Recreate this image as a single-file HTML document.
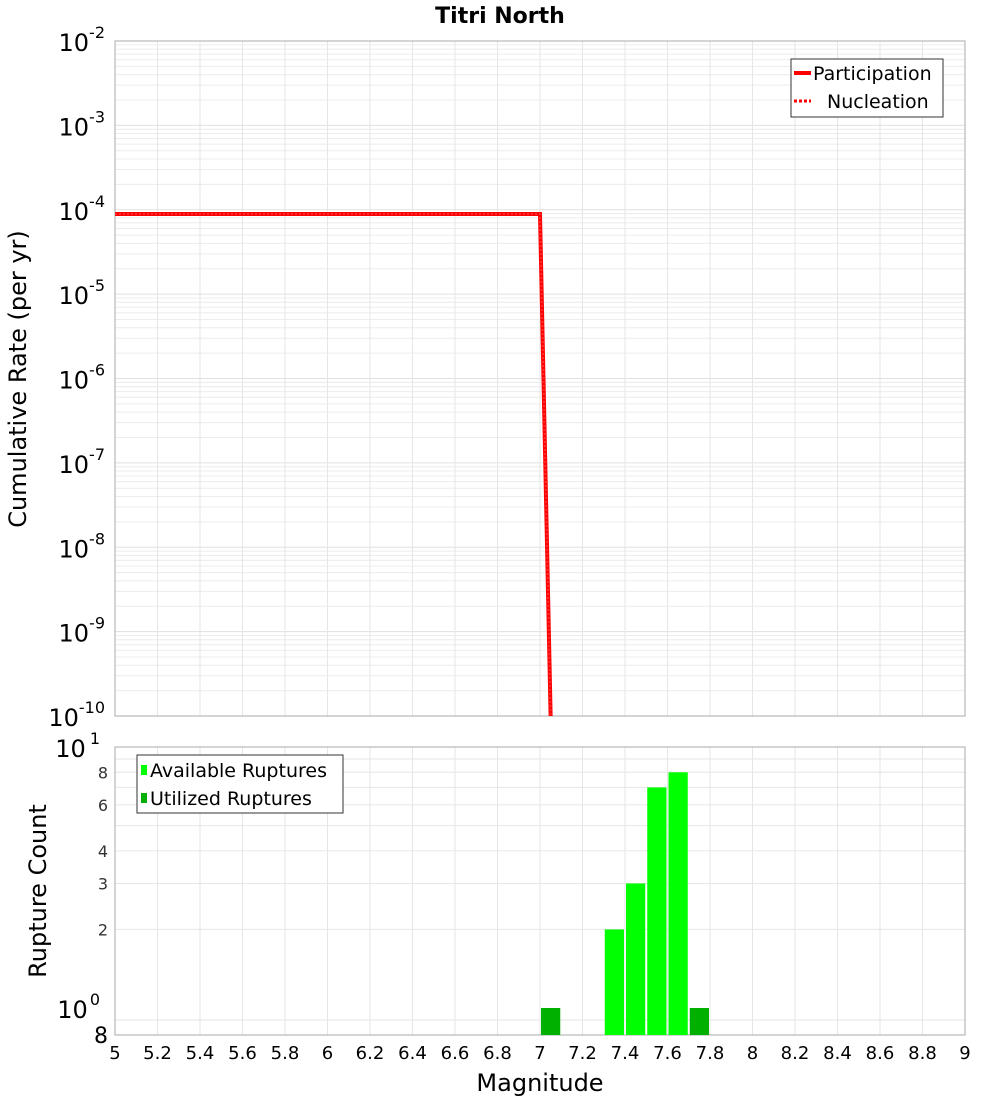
<!DOCTYPE html>
<html><head><meta charset="utf-8"><style>
body{margin:0;background:#fff;font-family:"DejaVu Sans","Liberation Sans",sans-serif}
</style></head><body>
<svg id="chart" width="1000" height="1100" xmlns="http://www.w3.org/2000/svg" font-family="DejaVu Sans, Liberation Sans, sans-serif">
<text x="500" y="23" text-anchor="middle" font-size="22" font-weight="bold">Titri North</text>
<g id="topG"></g><g id="botG"></g>
<text transform="translate(26,379) rotate(-90)" text-anchor="middle" font-size="24">Cumulative Rate (per yr)</text>
<text transform="translate(46,891) rotate(-90)" text-anchor="middle" font-size="24">Rupture Count</text>
<text x="540" y="1091" text-anchor="middle" font-size="24">Magnitude</text>
</svg>
<script>
const lineMags=[5,7.0,7.05];
const partRates=[8.9e-5,8.9e-5,1e-10];
const nuclRates=[8.9e-5,8.9e-5,1e-10];
const barMags=[7.05,7.35,7.45,7.55,7.65,7.75];
const availCounts=[0,2,3,7,8,0];
const usedCounts=[1,0,0,0,0,1];
const xTicks=[5,5.2,5.4,5.6,5.8,6,6.2,6.4,6.6,6.8,7,7.2,7.4,7.6,7.8,8,8.2,8.4,8.6,8.8,9];
const topExps=[-2,-3,-4,-5,-6,-7,-8,-9,-10];
const botTicks=[8,6,4,3,2];

const NS="http://www.w3.org/2000/svg";
const L=115,R=965,T1=41,B1=716,T2=747,B2=1035;
const xs=m=>L+(m-5)/4*(R-L);
const y1=v=>T1+(-2-Math.log10(v))*(B1-T1)/8;
const y2=v=>1008-Math.log10(v)*261;
function el(p,tg,a){const e=document.createElementNS(NS,tg);for(const k in a)e.setAttribute(k,a[k]);p.appendChild(e);return e;}
const topG=document.getElementById('topG'),botG=document.getElementById('botG');

for(let d=-10;d<-2;d++)for(let k=1;k<10;k++){const yy=y1(k*Math.pow(10,d));const g=el(topG,'line',{x1:L,x2:R,y1:yy,y2:yy,stroke:k==1?'#e0e0e0':'#ececec','stroke-width':1});

}
xTicks.forEach(tv=>{[[topG,T1,B1],[botG,T2,B2]].forEach(([p,a,b])=>{const g=el(p,'line',{x1:xs(tv),x2:xs(tv),y1:a,y2:b,stroke:'#e6e6e6'});

});});
[9,8,7,6,5,4,3,2,0.9].forEach(v=>{const g=el(botG,'line',{x1:L,x2:R,y1:y2(v),y2:y2(v),stroke:'#e6e6e6'});

});
let fr=el(topG,'rect',{x:L,y:T1,width:R-L,height:B1-T1,fill:'none',stroke:'#aaa'});


fr=el(botG,'rect',{x:L,y:T2,width:R-L,height:B2-T2,fill:'none',stroke:'#aaa'});



topExps.forEach(e=>{const tx=el(topG,'text',{x:105,y:y1(Math.pow(10,e))+10,'text-anchor':'end','font-size':24});


tx.textContent='10';const sp=el(tx,'tspan',{dy:-13,'font-size':16});sp.textContent=e;});

function pts(r){return lineMags.map((m,i)=>xs(m)+','+y1(r[i])).join(' ');}
let pl=el(topG,'polyline',{points:pts(partRates),fill:'none',stroke:'#ff0000','stroke-width':4});


pl=el(topG,'polyline',{points:pts(nuclRates),fill:'none',stroke:'#ff3030','stroke-width':2,'stroke-dasharray':'2,2'});



const lg=el(topG,'g',{});


el(lg,'rect',{x:791,y:59,width:152,height:58,fill:'#fff',stroke:'#333'});
el(lg,'line',{x1:794,x2:811,y1:73,y2:73,stroke:'#f00','stroke-width':4});
el(lg,'line',{x1:794,x2:811,y1:101,y2:101,stroke:'#f00','stroke-width':3,'stroke-dasharray':'3,2'});
let tt=el(lg,'text',{x:813,y:80,'font-size':19});tt.textContent='Participation';
tt=el(lg,'text',{x:827,y:108,'font-size':19});tt.textContent='Nucleation';

const bw=(xs(7.1)-xs(7.0))-2;
barMags.forEach((m,i)=>{[[availCounts[i],'#00ff00','available-bar'],[usedCounts[i],'#00b000','utilized-bar']].forEach(([v,c,n])=>{if(v>0){
const b=el(botG,'rect',{x:xs(m)-bw/2,y:y2(v),width:bw,height:B2-y2(v),fill:c});

}});});

let bt=el(botG,'text',{x:100,y:757,'text-anchor':'end','font-size':24});


bt.textContent='10';let s1=el(bt,'tspan',{dx:4,dy:-13,'font-size':16});s1.textContent='1';
bt=el(botG,'text',{x:100,y:1018,'text-anchor':'end','font-size':24});


bt.textContent='10';s1=el(bt,'tspan',{dx:2,dy:-13,'font-size':16});s1.textContent='0';
botTicks.forEach(v=>{const q=el(botG,'text',{x:108,y:y2(v)+6,'text-anchor':'end','font-size':16,fill:'#333'});

q.textContent=v;});
bt=el(botG,'text',{x:108,y:1043,'text-anchor':'end','font-size':22});

bt.textContent='8';

xTicks.forEach(v=>{const q=el(botG,'text',{x:xs(v),y:1059,'text-anchor':'middle','font-size':18});

q.textContent=v;});

const lb=el(botG,'g',{});


el(lb,'rect',{x:137,y:755,width:206,height:58,fill:'#fff',stroke:'#333'});
el(lb,'rect',{x:141,y:765,width:6,height:10,fill:'#00ff00'});
el(lb,'rect',{x:141,y:793,width:6,height:10,fill:'#00b000'});
tt=el(lb,'text',{x:150,y:777,'font-size':19});tt.textContent='Available Ruptures';
tt=el(lb,'text',{x:150,y:805,'font-size':19});tt.textContent='Utilized Ruptures';
</script>
</body></html>
